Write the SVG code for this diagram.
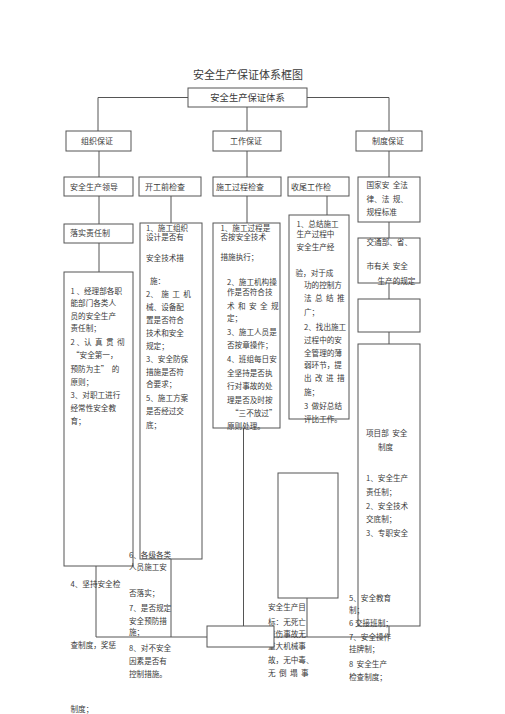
<svg xmlns="http://www.w3.org/2000/svg" width="505" height="714" viewBox="0 0 505 714">
<style>
text{font-family:"Noto Sans CJK SC","Noto Sans",sans-serif;fill:#3a3a3a;white-space:pre}
.t{font-size:7.6px}
.h{font-size:8px}
.b{fill:#fff;stroke:#555;stroke-width:1}
.c{fill:none;stroke:#555;stroke-width:1}
</style>
<rect width="505" height="714" fill="#fff"/>
<text x="248" y="79" font-size="11" text-anchor="middle">安全生产保证体系框图</text>
<g id="connectors" class="c">
<path d="M98,131V97.5H188M307,97.5H389V131M247,107V131"/>
<path d="M99,151V177M247,151V177M389,151V177"/>
<path d="M99,196V224M99,243V272M171,196V223M247,196V223M327,196V215"/>
<path d="M389,222V238M389,283V299M389,332V344"/>
<path d="M96,566V637H207M171,559V637M243.5,428V626M307,598V637M274,637H389V626"/>
</g>
<g id="n-root"><rect class="b" x="188" y="88" width="119" height="19"/><text x="247.5" y="100.5" font-size="9.3" text-anchor="middle">安全生产保证体系</text></g>
<g id="n-org"><rect class="b" x="66" y="131" width="65" height="20"/><text class="h" x="81" y="143.5">组织保证</text></g>
<g id="n-work"><rect class="b" x="213" y="131" width="68" height="20"/><text class="h" x="230" y="143.5">工作保证</text></g>
<g id="n-sys"><rect class="b" x="356" y="131" width="66" height="20"/><text class="h" x="372" y="143.5">制度保证</text></g>
<g id="n-lead"><rect class="b" x="64" y="177" width="69" height="19"/><text class="h" x="70" y="189.5">安全生产领导</text></g>
<g id="n-pre"><rect class="b" x="139" y="177" width="62" height="19"/><text class="h" x="145" y="189.5">开工前检查</text></g>
<g id="n-proc"><rect class="b" x="213" y="177" width="68" height="19"/><text class="h" x="216" y="189.5">施工过程检查</text></g>
<g id="n-end"><rect class="b" x="288" y="177" width="61" height="19"/><text class="h" x="291" y="189.5">收尾工作检</text></g>
<g id="n-law"><rect class="b" x="358" y="177" width="62" height="45"/>
<text class="t"><tspan x="366.5" y="188">国家安  全法</tspan><tspan x="366.5" y="202">律、法  规、</tspan><tspan x="366.5" y="215">规程标准</tspan></text></g>
<g id="n-resp"><rect class="b" x="64" y="224" width="69" height="19"/><text class="h" x="70" y="236">落实责任制</text></g>
<g id="n-resp-detail"><rect class="b" x="64" y="272" width="69" height="294"/>
<text class="t"><tspan x="70.5" y="294">1 、经理部各职</tspan><tspan x="70.5" y="306">能部门各类人</tspan><tspan x="70.5" y="319">员的安全生产</tspan><tspan x="70.5" y="331">责任制；</tspan><tspan x="70.5" y="345">2 、认  真  贯  彻</tspan><tspan x="72" y="358">“安全第一，</tspan><tspan x="70.5" y="372">预防为主”  的</tspan><tspan x="70.5" y="385">原则；</tspan><tspan x="70.5" y="398">3、对职工进行</tspan><tspan x="70.5" y="411">经常性安全教</tspan><tspan x="70.5" y="424">育；</tspan><tspan x="70.5" y="587">4、坚持安全检</tspan><tspan x="70.5" y="648">查制度，奖惩</tspan><tspan x="70.5" y="712">制度；</tspan></text></g>
<g id="n-pre-detail"><rect class="b" x="140" y="223" width="62" height="336"/>
<text class="t"><tspan x="146" y="230.5">1、施工组织</tspan><tspan x="146" y="240">设计是否有</tspan><tspan x="146" y="261">安全技术措</tspan><tspan x="150" y="284">施：</tspan><tspan x="146" y="297">2、  施  工  机</tspan><tspan x="146" y="310">械、设备配</tspan><tspan x="146" y="323">置是否符合</tspan><tspan x="146" y="336">技术和安全</tspan><tspan x="146" y="349">规定；</tspan><tspan x="146" y="362">3、安全防保</tspan><tspan x="146" y="375">措施是否符</tspan><tspan x="146" y="387">合要求；</tspan><tspan x="146" y="401">5、施工方案</tspan><tspan x="146" y="414">是否经过交</tspan><tspan x="146" y="428">底；</tspan><tspan x="129" y="558">6、各级各类</tspan><tspan x="129" y="570">人员施工安</tspan><tspan x="129" y="596">否落实；</tspan><tspan x="129" y="611">7、是否规定</tspan><tspan x="129" y="624">安全预防措</tspan><tspan x="129" y="635">施；</tspan><tspan x="129" y="651">8、对不安全</tspan><tspan x="129" y="664">因素是否有</tspan><tspan x="129" y="677">控制措施。</tspan></text></g>
<g id="n-proc-detail"><rect class="b" x="213" y="223" width="67" height="205"/>
<text class="t"><tspan x="220.5" y="230.5">1、施工过程是</tspan><tspan x="220.5" y="240">否按安全技术</tspan><tspan x="220.5" y="260">措施执行；</tspan><tspan x="227" y="285">2、施工机构操</tspan><tspan x="227" y="295">作是否符合技</tspan><tspan x="227" y="309">术  和  安  全  规</tspan><tspan x="227" y="321">定；</tspan><tspan x="227" y="335">3、施工人员是</tspan><tspan x="227" y="348">否按章操作；</tspan><tspan x="227" y="362">4、班组每日安</tspan><tspan x="227" y="376">全坚持是否执</tspan><tspan x="227" y="389">行对事故的处</tspan><tspan x="227" y="403">理是否及时按</tspan><tspan x="231" y="416">“三不放过”</tspan><tspan x="227" y="429">原则处理。</tspan></text></g>
<g id="n-end-detail"><rect class="b" x="289" y="215" width="60" height="204"/>
<text class="t"><tspan x="296.5" y="227">1、总结施工</tspan><tspan x="296.5" y="237">生产过程中</tspan><tspan x="296.5" y="250">安全生产经</tspan><tspan x="295.5" y="276">验，对于成</tspan><tspan x="304" y="288">功的控制方</tspan><tspan x="304" y="301">法  总  结  推</tspan><tspan x="304" y="315">广；</tspan><tspan x="304" y="330">2、找出施工</tspan><tspan x="304" y="343">过程中的安</tspan><tspan x="304" y="356">全管理的薄</tspan><tspan x="304" y="368">弱环节，提</tspan><tspan x="304" y="381">出  改  进  措</tspan><tspan x="304" y="395">施；</tspan><tspan x="304" y="409">3  做好总结</tspan><tspan x="304" y="422">评比工作。</tspan></text></g>
<g id="n-gov"><rect class="b" x="358" y="238" width="62" height="45"/>
<text class="t"><tspan x="366.5" y="245">交通部、省、</tspan><tspan x="366.5" y="269">市有关  安全</tspan><tspan x="377.5" y="284">生产的规定</tspan></text></g>
<g id="n-blank-right"><rect class="b" x="358" y="299" width="62" height="33"/></g>
<g id="n-project"><rect class="b" x="358" y="344" width="62" height="282"/>
<text class="t"><tspan x="366" y="436">项目部  安全</tspan><tspan x="378" y="450">制度</tspan><tspan x="366" y="481">1、安全生产</tspan><tspan x="366" y="495">责任制；</tspan><tspan x="366" y="509">2、安全技术</tspan><tspan x="366" y="522">交底制；</tspan><tspan x="366" y="536">3、专职安全</tspan><tspan x="349" y="601">5、安全教育</tspan><tspan x="349" y="613">制；</tspan><tspan x="349" y="626">6 交接班制；</tspan><tspan x="349" y="640">7、安全操作</tspan><tspan x="349" y="652">挂牌制；</tspan><tspan x="349" y="667">8  安全生产</tspan><tspan x="349" y="680">检查制度；</tspan></text></g>
<g id="n-target"><rect class="b" x="278" y="473" width="60" height="125"/>
<text class="t"><tspan x="268" y="610">安全生产目</tspan><tspan x="268" y="625">标：无死亡</tspan><tspan x="268" y="637">重伤事故无</tspan><tspan x="268" y="649">重大机械事</tspan><tspan x="268" y="663">故，无中毒、</tspan><tspan x="268" y="676">无  倒  塌  事</tspan></text></g>
<g id="n-bottom"><rect class="b" x="207" y="626" width="67" height="21"/></g>
</svg>
